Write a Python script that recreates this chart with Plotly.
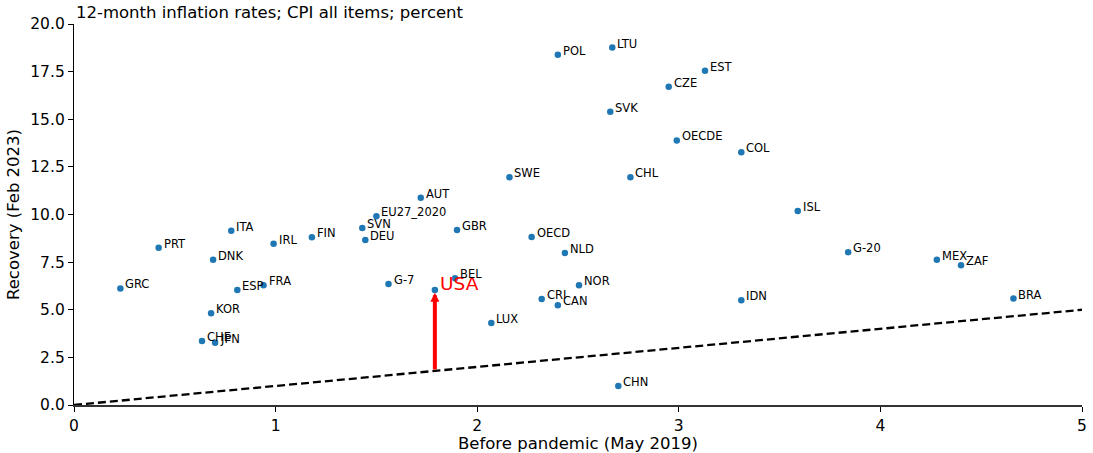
import plotly.graph_objects as go

# 12-month CPI inflation (percent): May 2019 vs Feb 2023
countries = ["GRC", "PRT", "ITA", "DNK", "IRL", "FIN", "ESP", "FRA", "KOR", "CHE", "JPN",
             "SVN", "EU27_2020", "DEU", "AUT", "GBR", "G-7", "USA", "BEL", "LUX", "OECD",
             "NLD", "NOR", "CRI", "CAN", "CHN", "SWE", "CHL", "POL", "LTU", "SVK", "CZE",
             "EST", "OECDE", "COL", "ISL", "G-20", "MEX", "ZAF", "BRA", "IDN"]
before = [0.23, 0.42, 0.78, 0.69, 0.99, 1.18, 0.81, 0.94, 0.68, 0.635, 0.70,
          1.43, 1.50, 1.445, 1.72, 1.90, 1.56, 1.79, 1.89, 2.07, 2.27,
          2.435, 2.505, 2.32, 2.40, 2.70, 2.16, 2.76, 2.40, 2.67, 2.66, 2.95,
          3.13, 2.99, 3.31, 3.59, 3.84, 4.28, 4.40, 4.66, 3.31]
recovery = [6.12, 8.26, 9.15, 7.62, 8.47, 8.81, 6.04, 6.28, 4.82, 3.36, 3.27,
            9.29, 9.91, 8.66, 10.88, 9.19, 6.35, 6.04, 6.66, 4.30, 8.82,
            7.98, 6.28, 5.56, 5.23, 1.00, 11.95, 11.95, 18.39, 18.76, 15.39, 16.71,
            17.54, 13.89, 13.27, 10.18, 8.02, 7.62, 7.34, 5.59, 5.50]
highlight = "USA"

fig = go.Figure()

# reference line: no change between the two periods (y = x)
fig.add_trace(go.Scatter(x=[0, 5], y=[0, 5], mode="lines",
                         line=dict(color="black", width=2.3, dash="8px,4px"),
                         hoverinfo="skip", showlegend=False))

fig.add_trace(go.Scatter(x=before, y=recovery, mode="markers",
                         marker=dict(color="#1f77b4", size=6.5),
                         showlegend=False))

annotations = []
for name, xv, yv in zip(countries, before, recovery):
    if name == highlight:
        annotations.append(dict(x=xv, y=yv, xref="x", yref="y", text=name,
                                showarrow=False, xanchor="left", yanchor="middle",
                                xshift=3, yshift=6,
                                font=dict(color="red", size=18.5,
                                          family="DejaVu Sans")))
        # arrow rising from the y = x line up to the highlighted point
        annotations.append(dict(x=xv, y=yv - 0.15, xref="x", yref="y",
                                ax=xv, ay=xv, axref="x", ayref="y", text="",
                                showarrow=True, arrowhead=2, arrowsize=0.45,
                                arrowwidth=4, arrowcolor="red"))
    else:
        annotations.append(dict(x=xv, y=yv, xref="x", yref="y", text=name,
                                showarrow=False, xanchor="left", yanchor="middle",
                                xshift=3, yshift=4,
                                font=dict(color="black", size=11.5,
                                          family="DejaVu Sans")))

annotations.append(dict(x=0, y=1, xref="paper", yref="paper",
                        text="12-month inflation rates; CPI all items; percent",
                        showarrow=False, xanchor="left", yanchor="bottom",
                        yshift=0,
                        font=dict(size=16.5, color="black", family="DejaVu Sans")))

fig.update_layout(
    width=1093, height=453,
    margin=dict(l=74, r=11, t=24, b=48),
    paper_bgcolor="white", plot_bgcolor="white",
    font=dict(family="DejaVu Sans", color="black"),
    annotations=annotations,
    xaxis=dict(range=[0, 5], tickvals=[0, 1, 2, 3, 4, 5],
               ticks="outside", ticklen=5, tickwidth=1.2, tickcolor="black",
               showline=True, linecolor="#333", linewidth=2.2,
               showgrid=False, zeroline=False, automargin=False,
               tickfont=dict(size=15.5),
               title=dict(text="Before pandemic (May 2019)",
                          font=dict(size=16.5), standoff=6)),
    yaxis=dict(range=[0, 20], tickvals=[0, 2.5, 5, 7.5, 10, 12.5, 15, 17.5, 20],
               ticktext=["0.0", "2.5", "5.0", "7.5", "10.0", "12.5", "15.0",
                         "17.5", "20.0"],
               ticks="outside", ticklen=5, tickwidth=1.2, tickcolor="black",
               showline=True, linecolor="black", linewidth=1.3,
               showgrid=False, zeroline=False, automargin=False,
               tickfont=dict(size=15.5),
               title=dict(text="Recovery (Feb 2023)",
                          font=dict(size=16.5), standoff=6)),
)

fig.write_html("out.html")
